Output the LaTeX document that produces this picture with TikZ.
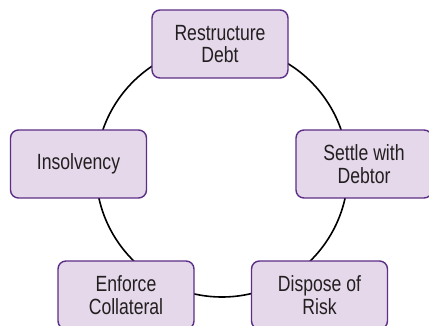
\documentclass[tikz,border=0pt]{standalone}
\usepackage{fontspec}
\setmainfont{Liberation Sans}[FakeStretch=0.8]
\usepackage{tikz}
\definecolor{boxfill}{HTML}{E4D8EA}
\definecolor{boxline}{HTML}{5C2E86}
\definecolor{boxtext}{HTML}{231F20}

\begin{document}
\begin{tikzpicture}[x=1pt,y=-1pt,
  stage/.style={draw=boxline,fill=boxfill,line width=1.4pt,rounded corners=8pt,
    minimum width=136pt,minimum height=68pt,inner sep=0pt,align=center,
    text=boxtext,font=\fontsize{22}{22.5}\selectfont}]
  \useasboundingbox (0,0) rectangle (429,326);
  \def\R{126}   % ring radius
  \coordinate (hub) at (222,171);
  % the ring behind the boxes
  \draw[line width=1.6pt] (hub) circle[radius=\R pt];
  \node[stage] (restructure) at (220,44)  {Restructure\\Debt};
  \node[stage] (settle)      at (364,164) {Settle with\\Debtor};
  \node[stage] (dispose)     at (319.5,295) {Dispose of\\Risk};
  \node[stage] (enforce)     at (126,295) {Enforce\\Collateral};
  \node[stage] (insolvency)  at (78.5,164) {Insolvency};
\end{tikzpicture}
\end{document}
